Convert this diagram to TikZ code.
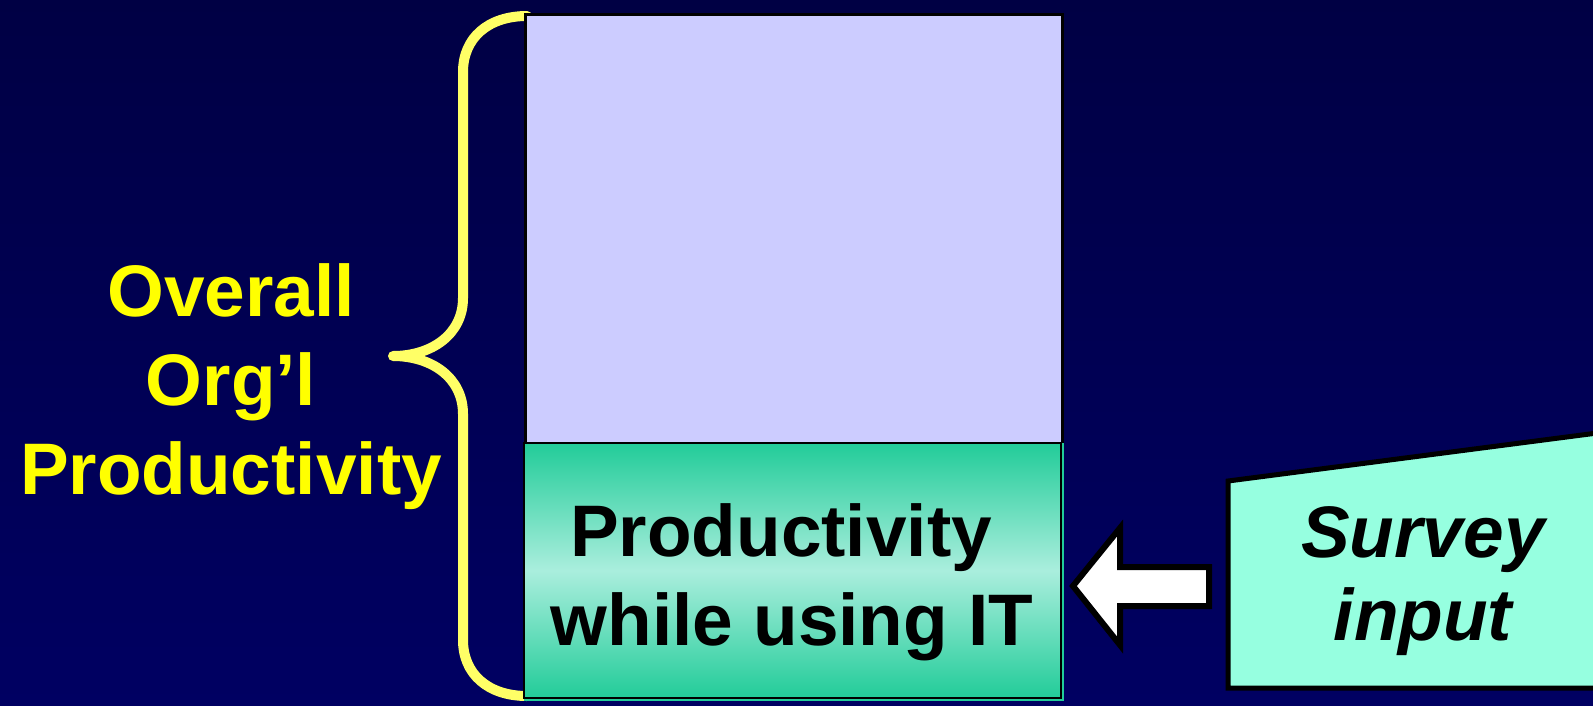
\documentclass[tikz,border=0pt]{standalone}
\usepackage{fontspec}
\setmainfont{Liberation Sans}
\definecolor{navytop}{HTML}{000044}
\definecolor{navybot}{HTML}{000062}
\definecolor{lavender}{HTML}{CCCCFF}
\definecolor{tealdark}{HTML}{22CC99}
\definecolor{teallight}{HTML}{AAEEDD}
\definecolor{aqua}{HTML}{96FFE0}
\definecolor{braceyellow}{HTML}{FFFF66}
\definecolor{labelyellow}{HTML}{FFFF00}
\tikzset{
  bigtext/.style={font=\fontsize{73}{89}\selectfont\bfseries, align=center, inner sep=0pt},
}
\begin{document}
\begin{tikzpicture}[x=1pt, y=-1pt]
  \useasboundingbox (0,0) rectangle (1593,705);
  \clip (0,0) rectangle (1593,705);
  % background
  \shade[top color=navytop, bottom color=navybot] (0,0) rectangle (1593,705);

  % curly brace on the left of the stacked boxes
  \draw[braceyellow, line width=10pt, line cap=round, line join=round]
    (527,16) .. controls (488,16) and (463,38) .. (463,72)
    -- (463,298)
    .. controls (463,334) and (432,356) .. (393,356)
    .. controls (432,356) and (463,378) .. (463,414)
    -- (463,640)
    .. controls (463,674) and (488,696) .. (527,696);

  % upper (lavender) box
  \node[draw=black, line width=3pt, fill=lavender, minimum width=537pt, minimum height=430pt,
        inner sep=0pt, anchor=north west] (top) at (524,13) {};

  % lower (gradient) box with its teal outer rim
  \draw[tealdark, line width=2pt] (1063,443) -- (1063,700) -- (524,700);
  \shade[top color=tealdark, bottom color=tealdark, middle color=teallight]
    (524,443) rectangle (1061,698);
  \draw[black, line width=2.5pt] (524,443) rectangle (1061,698);
  \node[bigtext, text=black] (it) at (792,582) {Productivity\kern0.3em\\while using IT};

  % label of the brace
  \node[bigtext, text=labelyellow] (overall) at (231,387) {Overall\\Org’l\\Productivity};

  % survey card
  \draw[black, line width=5pt, fill=aqua, line join=miter]
    (1228,481) -- (1605,432) -- (1605,688) -- (1228,688) -- cycle;
  \node[bigtext, font=\fontsize{73}{83}\selectfont\bfseries\itshape, text=black] (survey)
    at (1423,581) {Survey\\input};

  % block arrow from the survey card to the lower box
  \draw[black, fill=white, line width=6pt, line join=miter]
    (1073,586) -- (1120,528) -- (1120,567) -- (1209,567) -- (1209,606)
    -- (1120,606) -- (1120,645) -- cycle;
\end{tikzpicture}
\end{document}
